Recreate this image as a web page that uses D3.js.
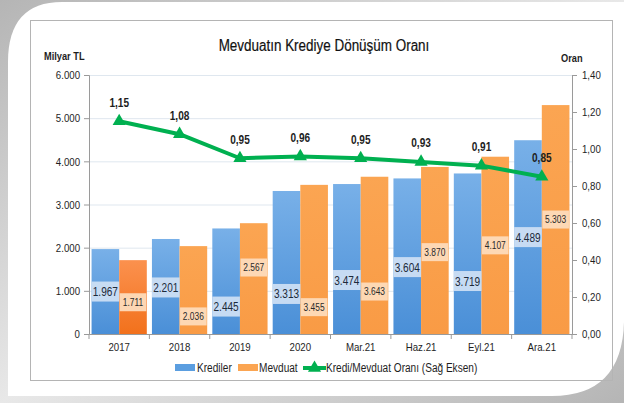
<!DOCTYPE html>
<html>
<head>
<meta charset="utf-8">
<script src="https://cdn.jsdelivr.net/npm/d3@7"></script>
<style>
  body { margin: 0; background: #fff; }
  svg { display: block; font-family: "Liberation Sans", Arial, sans-serif; }
</style>
</head>
<body>
<div class="chart"></div>
<script>
// data
const categories = ['2017', '2018', '2019', '2020', 'Mar.21', 'Haz.21', 'Eyl.21', 'Ara.21']
const krediler = [1967, 2201, 2445, 3313, 3474, 3604, 3719, 4489]
const mevduat = [1711, 2036, 2567, 3455, 3643, 3870, 4107, 5303]
const oran = [1.15, 1.08, 0.95, 0.96, 0.95, 0.93, 0.91, 0.85]
const leftTicks = [0, 1000, 2000, 3000, 4000, 5000, 6000]
const rightTicks = [0, 0.2, 0.4, 0.6, 0.8, 1.0, 1.2, 1.4]

// where the value boxes sit inside each bar (share of bar height), as in the original
const krediLabelAt = [0.5, 0.49, 0.26, 0.28, 0.36, 0.43, 0.33, 0.5]
const mevduatLabelAt = [0.43, 0.2, 0.6, 0.18, 0.27, 0.49, 0.5, 0.5]

const width = 624
const height = 403
const margin = { left: 89, right: 52, top: 75, bottom: 69 }
const ink = '#1e1e1e'

const svg = d3.select('.chart').append('svg')
  .attr('width', width)
  .attr('height', height)

const defs = svg.append('defs')

// background frame
const bg = defs.append('linearGradient').attr('id', 'bg')
  .attr('x1', 0).attr('y1', 0).attr('x2', 1).attr('y2', 1)
bg.append('stop').attr('offset', 0).attr('stop-color', '#b5b5b5')
bg.append('stop').attr('offset', 0.5).attr('stop-color', '#e8e8e8')
bg.append('stop').attr('offset', 1).attr('stop-color', '#b5b5b5')

const blueGrad = defs.append('linearGradient').attr('id', 'blue')
  .attr('x1', 0).attr('y1', 0).attr('x2', 0).attr('y2', 1)
blueGrad.append('stop').attr('offset', 0).attr('stop-color', '#78b0e8')
blueGrad.append('stop').attr('offset', 1).attr('stop-color', '#4a8fd7')

const orangeGrad = defs.append('linearGradient').attr('id', 'orange')
  .attr('x1', 0).attr('y1', 0).attr('x2', 0).attr('y2', 1)
orangeGrad.append('stop').attr('offset', 0).attr('stop-color', '#fba552')
orangeGrad.append('stop').attr('offset', 1).attr('stop-color', '#f99b45')

const orangeDark = defs.append('linearGradient').attr('id', 'orangeDark')
  .attr('x1', 0).attr('y1', 0).attr('x2', 0).attr('y2', 1)
orangeDark.append('stop').attr('offset', 0).attr('stop-color', '#fb914e')
orangeDark.append('stop').attr('offset', 1).attr('stop-color', '#f2711c')

svg.append('rect').attr('width', width).attr('height', height).attr('fill', 'url(#bg)')
svg.append('path')
  .attr('d', 'M8,62 Q8,2 62,2 H624 V322 Q622,396 552,396 H8 Z')
  .attr('fill', '#fff')
svg.append('rect')
  .attr('x', 30.5).attr('y', 20.5).attr('width', 582).attr('height', 360)
  .attr('fill', 'none').attr('stroke', '#b4b4b4').attr('stroke-width', 1)

// scales
const x = d3.scaleBand()
  .domain(categories)
  .range([margin.left, width - margin.right])
  .paddingInner(0.085)
  .paddingOuter(0.0425)

const xGroup = d3.scaleBand()
  .domain(['krediler', 'mevduat'])
  .range([0, x.bandwidth()])

const y = d3.scaleLinear().domain([0, 6000]).range([height - margin.bottom, margin.top])
const yRight = d3.scaleLinear().domain([0, 1.4]).range([height - margin.bottom, margin.top])

// grid
svg.append('g')
  .selectAll('line')
  .data(leftTicks.slice(1))
  .join('line')
  .attr('x1', margin.left).attr('x2', width - margin.right)
  .attr('y1', d => y(d) + 0.5).attr('y2', d => y(d) + 0.5)
  .attr('stroke', '#dfe7ef')

// bars
const groups = svg.append('g')
  .selectAll('g')
  .data(categories)
  .join('g')
  .attr('transform', d => `translate(${x(d)},0)`)

groups.append('rect')
  .attr('x', xGroup('krediler'))
  .attr('width', xGroup.bandwidth())
  .attr('y', (d, i) => y(krediler[i]))
  .attr('height', (d, i) => y(0) - y(krediler[i]))
  .attr('fill', 'url(#blue)')

groups.append('rect')
  .attr('x', xGroup('mevduat'))
  .attr('width', xGroup.bandwidth())
  .attr('y', (d, i) => y(mevduat[i]))
  .attr('height', (d, i) => y(0) - y(mevduat[i]))
  .attr('fill', (d, i) => i === 0 ? 'url(#orangeDark)' : 'url(#orange)')

const fmt = d3.formatLocale({ decimal: ',', thousands: '.', grouping: [3], currency: ['', ''] })
const fmtInt = fmt.format(',d')
const fmtDec = fmt.format(',.2f')

// value boxes
groups.each(function (d, i) {
  const g = d3.select(this)
  const bw = xGroup.bandwidth()
  const kY = y(krediler[i] * krediLabelAt[i])
  g.append('rect')
    .attr('x', xGroup('krediler')).attr('y', kY - 10)
    .attr('width', bw).attr('height', 20)
    .attr('fill', '#cfe0f4').attr('opacity', 0.93)
  g.append('text')
    .attr('x', xGroup('krediler') + bw / 2).attr('y', kY + 4.5)
    .attr('text-anchor', 'middle')
    .attr('font-size', 12).attr('fill', '#1c2a3a')
    .text(fmtInt(krediler[i]))

  const mY = y(mevduat[i] * mevduatLabelAt[i])
  g.append('rect')
    .attr('x', xGroup('mevduat') + 0.5).attr('y', mY - 9)
    .attr('width', bw - 1).attr('height', 18)
    .attr('fill', '#fddbbb').attr('opacity', 0.95)
  g.append('text')
    .attr('x', xGroup('mevduat') + bw / 2).attr('y', mY + 3.5)
    .attr('text-anchor', 'middle')
    .attr('font-size', 10).attr('fill', '#2a2a2a')
    .text(fmtInt(mevduat[i]))
})

// axes
const axisLeft = svg.append('g')
  .attr('transform', `translate(${margin.left},0)`)
  .call(d3.axisLeft(y).tickValues(leftTicks).tickFormat(fmtInt).tickSize(5).tickPadding(4))
const axisRight = svg.append('g')
  .attr('transform', `translate(${width - margin.right},0)`)
  .call(d3.axisRight(yRight).tickValues(rightTicks).tickFormat(fmtDec).tickSize(5).tickPadding(5))
const axisBottom = svg.append('g')
  .attr('transform', `translate(0,${height - margin.bottom})`)
  .call(d3.axisBottom(x).tickSize(0).tickPadding(9))

// category boundary ticks
svg.append('g')
  .selectAll('line')
  .data(d3.range(categories.length + 1))
  .join('line')
  .attr('x1', i => margin.left + i * x.step())
  .attr('x2', i => margin.left + i * x.step())
  .attr('y1', height - margin.bottom)
  .attr('y2', height - margin.bottom + 5)
  .attr('stroke', '#9a9a9a')

for (const ax of [axisLeft, axisRight, axisBottom]) {
  ax.select('.domain').attr('stroke', '#9a9a9a')
  ax.selectAll('.tick line').attr('stroke', '#9a9a9a')
  ax.selectAll('text').attr('font-size', 11.5).attr('fill', ink)
    .style('font-family', '"Liberation Sans", Arial, sans-serif')
}

// ratio line
const cx = c => x(c) + x.bandwidth() / 2
const line = d3.line()
  .x((d, i) => cx(categories[i]))
  .y(d => yRight(d))

svg.append('path')
  .datum(oran)
  .attr('d', line)
  .attr('fill', 'none')
  .attr('stroke', '#00b050')
  .attr('stroke-width', 4)
  .attr('stroke-linejoin', 'round')

const tri = d3.symbol().type(d3.symbolTriangle).size(75)
svg.append('g')
  .selectAll('path')
  .data(oran)
  .join('path')
  .attr('d', tri)
  .attr('transform', (d, i) => `translate(${cx(categories[i])},${yRight(d)})`)
  .attr('fill', '#00b050')

svg.append('g')
  .selectAll('text')
  .data(oran)
  .join('text')
  .attr('x', (d, i) => cx(categories[i]))
  .attr('y', d => yRight(d) - 14.5)
  .attr('text-anchor', 'middle')
  .attr('font-size', 12)
  .attr('font-weight', 'bold')
  .attr('fill', ink)
  .text(d => fmtDec(d))

// titles
svg.append('text')
  .attr('x', 324).attr('y', 51)
  .attr('text-anchor', 'middle')
  .attr('font-size', 16)
  .attr('fill', '#111')
  .attr('stroke', '#111').attr('stroke-width', 0.2)
  .text('Mevduatın Krediye Dönüşüm Oranı')

svg.append('text')
  .attr('x', 44).attr('y', 60)
  .attr('font-size', 11).attr('font-weight', 'bold').attr('fill', ink)
  .text('Milyar TL')

svg.append('text')
  .attr('x', 561).attr('y', 62)
  .attr('font-size', 11).attr('font-weight', 'bold').attr('fill', ink)
  .text('Oran')

// legend
const legend = svg.append('g').attr('transform', 'translate(175,368)')
legend.append('rect').attr('x', 0).attr('y', -4).attr('width', 20).attr('height', 7).attr('fill', '#5b9ee0')
legend.append('text').attr('x', 22).attr('y', 4).attr('font-size', 12).attr('fill', ink).text('Krediler')
legend.append('rect').attr('x', 63).attr('y', -4).attr('width', 20).attr('height', 7).attr('fill', '#fba552')
legend.append('text').attr('x', 84).attr('y', 4).attr('font-size', 12).attr('fill', ink).text('Mevduat')
legend.append('line').attr('x1', 128).attr('x2', 151).attr('y1', 0).attr('y2', 0)
  .attr('stroke', '#00b050').attr('stroke-width', 4)
legend.append('path').attr('d', tri).attr('transform', 'translate(139.5,0)').attr('fill', '#00b050')
legend.append('text').attr('x', 151).attr('y', 4).attr('font-size', 12).attr('fill', ink)
  .text('Kredi/Mevduat Oranı (Sağ Eksen)')

// the original uses a narrow face; squeeze every label a little to match its widths
svg.selectAll('text').each(function () {
  const len = this.getComputedTextLength()
  d3.select(this).attr('textLength', len * 0.84).attr('lengthAdjust', 'spacingAndGlyphs')
})
</script>
</body>
</html>
